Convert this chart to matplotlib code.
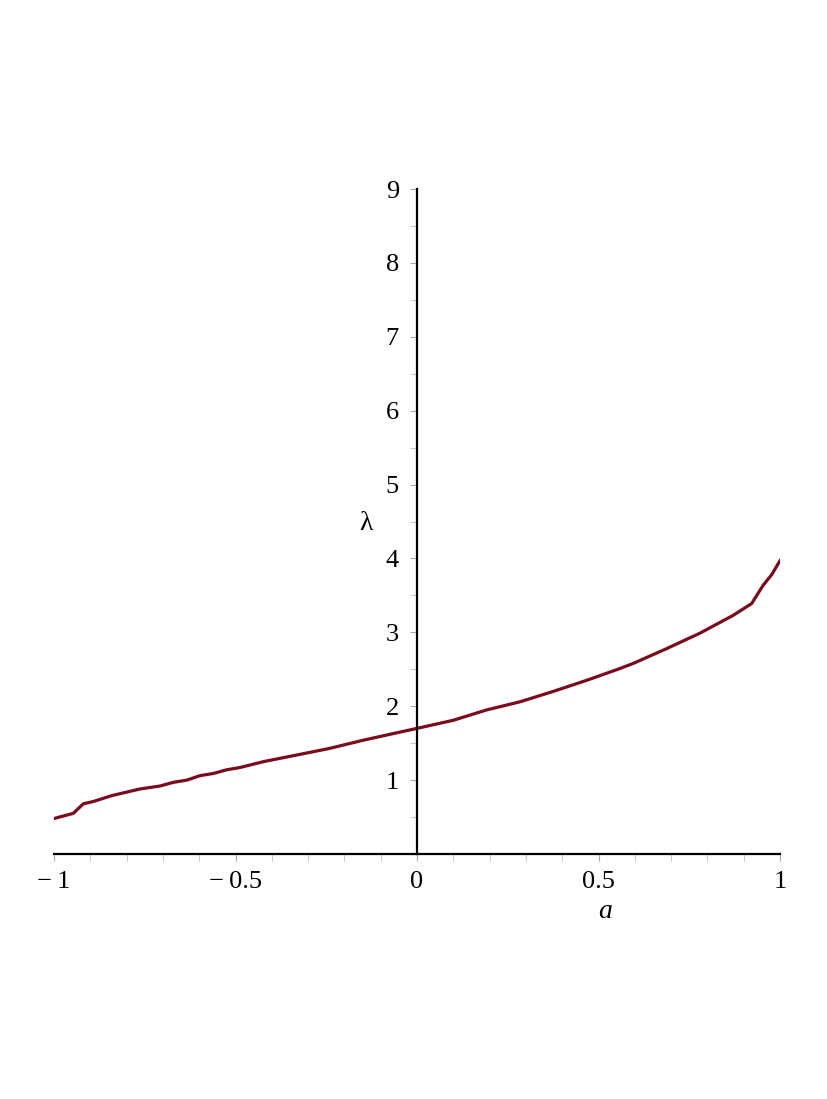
import matplotlib
matplotlib.use("Agg")
import matplotlib.pyplot as plt
from matplotlib.ticker import FixedLocator, MultipleLocator

# Data
a_vals = [-1.0, -0.947, -0.919, -0.892, -0.841, -0.763, -0.708, -0.671, -0.634,
          -0.598, -0.561, -0.524, -0.488, -0.423, -0.331, -0.240, -0.148, -0.056,
          0.0, 0.100, 0.192, 0.284, 0.375, 0.467, 0.559, 0.596, 0.688, 0.780,
          0.871, 0.922, 0.936, 0.954, 0.977, 1.0]
lam_vals = [0.48, 0.55, 0.68, 0.71, 0.79, 0.88, 0.92, 0.97, 1.00,
            1.06, 1.09, 1.14, 1.17, 1.25, 1.34, 1.43, 1.54, 1.64,
            1.70, 1.81, 1.95, 2.06, 2.20, 2.35, 2.51, 2.58, 2.78, 2.99,
            3.23, 3.39, 3.50, 3.64, 3.78, 3.97]

x_ticks = [-1, -0.5, 0, 0.5, 1]
x_ticklabels = ["\u2212\u20091", "\u2212\u20090.5", "0", "0.5", "1"]
y_ticks = [1, 2, 3, 4, 5, 6, 7, 8, 9]
y_ticklabels = [str(v) for v in y_ticks]

W, H = 827, 1099
fig = plt.figure(figsize=(W / 100, H / 100), dpi=100)
left, right, bottom, top = 54, 780, 854, 189
ax = fig.add_axes([left / W, 1 - bottom / H, (right - left) / W, (bottom - top) / H])

ax.plot(a_vals, lam_vals, color="#7a0a1c", lw=2.3, solid_joinstyle="round")
ax.set_xlim(-1, 1)
ax.set_ylim(0, 9)

for s in ["top", "right"]:
    ax.spines[s].set_visible(False)
ax.spines["left"].set_position(("data", 0))
ax.spines["bottom"].set_position(("data", 0))
for s in ["left", "bottom"]:
    ax.spines[s].set_linewidth(1.6)
    ax.spines[s].set_color("black")

serif = ["Liberation Serif", "DejaVu Serif"]
ax.xaxis.set_major_locator(FixedLocator(x_ticks))
ax.set_xticklabels(x_ticklabels, fontfamily=serif, fontsize=19)
ax.xaxis.set_minor_locator(MultipleLocator(0.1))
ax.yaxis.set_major_locator(FixedLocator(y_ticks))
ax.set_yticklabels(y_ticklabels, fontfamily=serif, fontsize=19)
ax.yaxis.set_minor_locator(MultipleLocator(0.5))

ax.tick_params(which="major", direction="out", color="#aaaaaa", width=0.8, length=5)
ax.tick_params(which="minor", direction="out", color="#cccccc", width=0.8, length=5)
ax.tick_params(axis="x", which="major", pad=7)
ax.tick_params(axis="y", which="major", pad=8)

fig.text(605 / W, 1 - 912 / H, "a", fontfamily=serif, fontstyle="italic",
         fontsize=20, ha="center", va="center")
fig.text(366 / W, 1 - 523 / H, "\u03bb", fontfamily=serif,
         fontsize=20, ha="center", va="center")

fig.savefig("out.png", dpi=100, facecolor="white")
